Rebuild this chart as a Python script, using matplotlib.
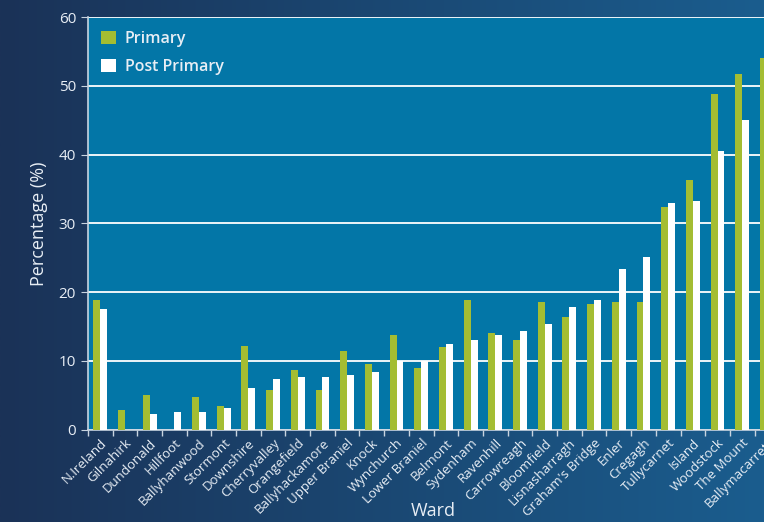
import numpy as np
import matplotlib.pyplot as plt
from matplotlib.colors import LinearSegmentedColormap

plt.rcParams['font.family'] = ['Open Sans', 'DejaVu Sans']

wards = ['N.Ireland', 'Gilnahirk', 'Dundonald', 'Hillfoot', 'Ballyhanwood', 'Stormont',
         'Downshire', 'Cherryvalley', 'Orangefield', 'Ballyhackamore', 'Upper Braniel',
         'Knock', 'Wynchurch', 'Lower Braniel', 'Belmont', 'Sydenham', 'Ravenhill',
         'Carrowreagh', 'Bloomfield', 'Lisnasharragh', "Graham's Bridge", 'Enler',
         'Cregagh', 'Tullycarnet', 'Island', 'Woodstock', 'The Mount', 'Ballymacarrett']
primary = [18.9, 2.8, 5.0, 0.0, 4.7, 3.4, 12.1, 5.8, 8.7, 5.7, 11.5, 9.6, 13.7, 8.9,
           12.0, 18.8, 14.1, 13.0, 18.6, 16.4, 18.3, 18.6, 18.5, 32.4, 36.3, 48.8, 51.8, 54.0]
post_primary = [17.5, 0.0, 2.2, 2.6, 2.6, 3.2, 6.0, 7.4, 7.6, 7.7, 7.9, 8.4, 10.0, 10.0,
                12.4, 13.1, 13.8, 14.3, 15.4, 17.9, 18.9, 23.4, 25.1, 33.0, 33.3, 40.6, 45.0, 48.4]

GREEN = '#a4bd32'
PLOT_BG = '#0376a7'
TXT = '#e8eef5'

fig = plt.figure(figsize=(7.64, 5.22), dpi=100)

# background gradient, dark navy to blue
bg = fig.add_axes([0, 0, 1, 1], zorder=-10)
cmap = LinearSegmentedColormap.from_list('bg', ['#1b3257', '#1a5d8e'])
bg.imshow(np.linspace(0, 1, 256).reshape(1, -1), aspect='auto', cmap=cmap,
          extent=[0, 1, 0, 1])
bg.axis('off')

ax = fig.add_axes([0.115, 0.177, 0.905, 0.790])
ax.set_facecolor(PLOT_BG)

x = np.arange(len(wards))
w = 0.28
ax.bar(x - w / 2, primary, w, color=GREEN, label='Primary', zorder=3)
ax.bar(x + w / 2, post_primary, w, color='white', label='Post Primary', zorder=3)

ax.set_xlim(-0.5, len(wards) - 0.5)
ax.set_ylim(0, 60)
ax.set_yticks(range(0, 61, 10))
ax.yaxis.grid(True, color='white', linewidth=1.3, zorder=1)
ax.set_axisbelow(True)

ax.set_xticks(x)
ax.set_xticklabels(wards, rotation=45, ha='right', rotation_mode='anchor',
                   fontsize=9.5, color=TXT)
ax.tick_params(axis='x', length=0, pad=5)
ax.set_xticks(np.arange(-0.5, len(wards), 1), minor=True)
ax.tick_params(axis='x', which='minor', length=4, color='#c8d4e0', width=1)
ax.tick_params(axis='y', labelsize=11, labelcolor=TXT, color='#c8d4e0', length=5)

for side in ['top', 'right']:
    ax.spines[side].set_visible(False)
for side in ['left', 'bottom']:
    ax.spines[side].set_color('#c8d4e0')
    ax.spines[side].set_linewidth(1.2)

ax.set_ylabel('Percentage (%)', fontsize=13, color=TXT, labelpad=8)
ax.set_xlabel('Ward', fontsize=13, color=TXT)
ax.xaxis.set_label_coords(0.5, -0.176)

leg = ax.legend(loc='upper left', frameon=False, fontsize=11.5, handlelength=0.9,
                handleheight=0.9, handletextpad=0.55, labelspacing=0.75,
                borderaxespad=0.45)
for t in leg.get_texts():
    t.set_color(TXT)
    t.set_fontweight('semibold')

fig.savefig('out.png', dpi=100)
